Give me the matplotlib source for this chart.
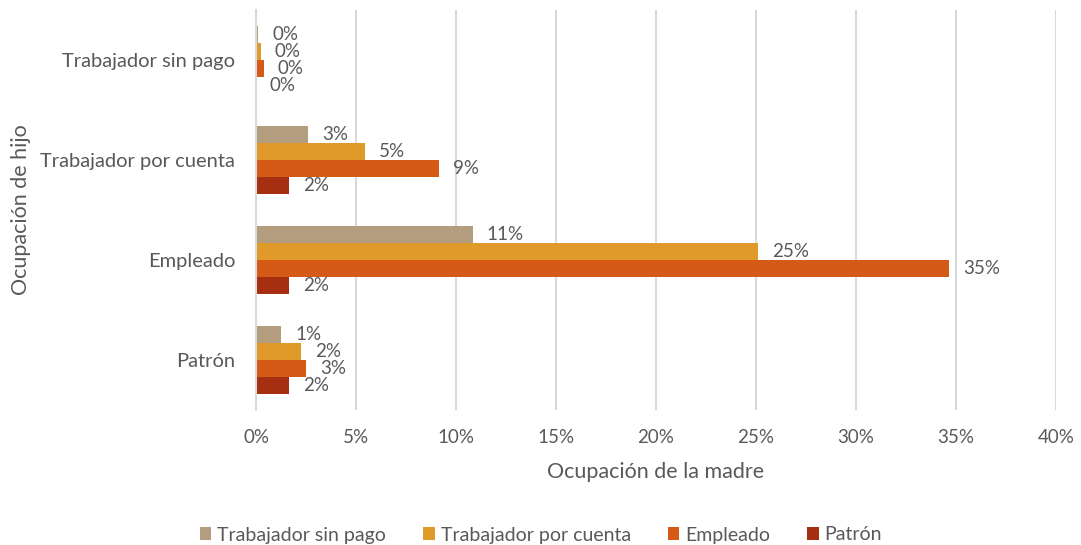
import matplotlib
matplotlib.use("Agg")
import matplotlib.pyplot as plt
import numpy as np
from matplotlib.ticker import FuncFormatter

plt.rcParams['font.family'] = ['Lato', 'DejaVu Sans']

categories = ["Trabajador sin pago", "Trabajador por cuenta", "Empleado", "Patrón"]
series_names = ["Trabajador sin pago", "Trabajador por cuenta", "Empleado", "Patrón"]
# values (%) per series, in category order
sin_pago = [0.12, 2.6, 10.85, 1.27]
por_cuenta = [0.24, 5.45, 25.1, 2.25]
empleado = [0.40, 9.15, 34.65, 2.51]
patron = [0.0, 1.64, 1.67, 1.64]
colors = ["#B39D7E", "#E09A2A", "#D65A17", "#A62F12"]
xticks = [0, 5, 10, 15, 20, 25, 30, 35, 40]

series = [sin_pago, por_cuenta, empleado, patron]
txt = "#595959"

fig = plt.figure(figsize=(10.81, 5.45), dpi=100)
ax = fig.add_axes([256/1081, 1-410/545, 800/1081, 400/545])

y = np.arange(len(categories))
h = 0.17
for i, (vals, col, name) in enumerate(zip(series, colors, series_names)):
    pos = y + (i - 1.5) * h
    bars = ax.barh(pos, vals, height=h, color=col, label=name, edgecolor='none')
    for b, v in zip(bars, vals):
        ax.annotate(f"{round(v):.0f}%", (b.get_width(), b.get_y() + b.get_height()/2),
                    xytext=(10, 0), textcoords='offset points', ha='left', va='center',
                    fontsize=13.5, color=txt)

ax.set_ylim(3.5, -0.5)
ax.set_xlim(0, 40)
ax.set_xticks(xticks)
ax.xaxis.set_major_formatter(FuncFormatter(lambda v, p: f"{v:.0f}%"))
ax.set_yticks(y)
ax.set_yticklabels(categories)
ax.tick_params(axis='y', length=0, pad=15, labelsize=14.5, labelcolor=txt)
ax.tick_params(axis='x', length=0, pad=14, labelsize=13.5, labelcolor=txt)
ax.grid(axis='x', color='#D9D9D9', linewidth=1.5)
ax.set_axisbelow(True)
for s in ['top', 'right', 'bottom']:
    ax.spines[s].set_visible(False)
ax.spines['left'].set_color('#D9D9D9')
ax.spines['left'].set_linewidth(1.5)

ax.set_xlabel("Ocupación de la madre", fontsize=15.5, color=txt, labelpad=11)
ax.set_ylabel("Ocupación de hijo", fontsize=15.5, color=txt, labelpad=7)

handles, labels = ax.get_legend_handles_labels()
fig.legend(handles, labels, loc='center', bbox_to_anchor=(541/1081, 1-535/545), ncol=4,
           frameon=False, fontsize=14, handlelength=0.6, handleheight=0.6,
           handletextpad=0.3, columnspacing=1.9, labelcolor=txt)

fig.savefig("out.png", dpi=100)
